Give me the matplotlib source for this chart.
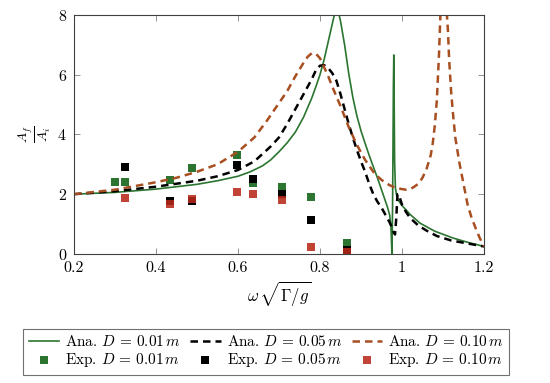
import matplotlib
matplotlib.use('Agg')
import matplotlib.pyplot as plt

plt.rcParams['font.family'] = 'serif'
plt.rcParams['font.serif'] = ['cmr10']
plt.rcParams['mathtext.fontset'] = 'cm'
plt.rcParams['axes.formatter.use_mathtext'] = True
plt.rcParams['font.size'] = 11

# analytic curves
ana01_x = [0.20, 0.30, 0.40, 0.50, 0.55, 0.60, 0.63, 0.66, 0.68, 0.70, 0.72, 0.74,
           0.76, 0.78, 0.79, 0.80, 0.81, 0.82, 0.83, 0.835, 0.84, 0.845, 0.85,
           0.86, 0.87, 0.88, 0.89, 0.90, 0.91, 0.92, 0.93, 0.94, 0.95, 0.96,
           0.965, 0.97, 0.973, 0.9755, 0.977, 0.978, 0.979, 0.980, 0.981, 0.982,
           0.984, 0.987, 0.99, 1.00, 1.02, 1.044, 1.08, 1.125, 1.16, 1.20]
ana01_y = [2.00, 2.06, 2.17, 2.33, 2.45, 2.60, 2.75, 2.95, 3.15, 3.42, 3.72, 4.08,
           4.58, 5.22, 5.60, 6.00, 6.50, 7.10, 7.70, 8.00, 8.15, 8.10, 7.80,
           7.00, 6.05, 5.25, 4.62, 4.12, 3.70, 3.30, 2.92, 2.55, 2.15, 1.75,
           1.55, 1.30, 0.90, 0.00, 1.60, 3.50, 5.60, 6.66, 5.00, 3.10,
           2.20, 1.95, 1.82, 1.62, 1.32, 1.03, 0.76, 0.53, 0.39, 0.25]

ana05_x = [0.20, 0.30, 0.40, 0.50, 0.55, 0.60, 0.64, 0.68, 0.70, 0.72, 0.74, 0.76,
           0.78, 0.79, 0.80, 0.81, 0.82, 0.83, 0.84, 0.85, 0.86, 0.87, 0.88, 0.89,
           0.90, 0.91, 0.92, 0.93, 0.94, 0.95, 0.96, 0.97, 0.975, 0.98, 0.983,
           0.986, 0.989, 0.992, 1.00, 1.01, 1.02, 1.04, 1.06, 1.085, 1.12, 1.16, 1.20]
ana05_y = [2.00, 2.10, 2.25, 2.45, 2.60, 2.81, 3.10, 3.60, 3.90, 4.35, 4.85, 5.35,
           5.85, 6.15, 6.30, 6.32, 6.22, 6.05, 5.80, 5.35, 4.85, 4.35, 3.90, 3.48,
           3.10, 2.75, 2.35, 2.00, 1.75, 1.55, 1.30, 1.05, 0.90, 0.72, 0.65,
           1.20, 2.00, 2.00, 1.65, 1.40, 1.20, 0.95, 0.78, 0.60, 0.45, 0.35, 0.25]

ana10_x = [0.20, 0.30, 0.40, 0.45, 0.50, 0.55, 0.60, 0.64, 0.67, 0.70, 0.72, 0.74,
           0.76, 0.77, 0.78, 0.79, 0.80, 0.81, 0.82, 0.83, 0.84, 0.85, 0.86, 0.87,
           0.88, 0.89, 0.90, 0.91, 0.92, 0.93, 0.94, 0.95, 0.96, 0.97, 0.98, 0.99,
           1.00, 1.01, 1.02, 1.03, 1.04, 1.05, 1.06, 1.07, 1.075, 1.08, 1.085,
           1.09, 1.095, 1.107, 1.112, 1.115, 1.12, 1.125, 1.13, 1.14, 1.15, 1.16,
           1.17, 1.18, 1.19, 1.20]
ana10_y = [2.00, 2.15, 2.40, 2.55, 2.75, 3.00, 3.42, 3.90, 4.45, 5.05, 5.45, 5.95,
           6.40, 6.60, 6.72, 6.70, 6.55, 6.25, 5.95, 5.60, 5.27, 4.95, 4.60, 4.25,
           3.95, 3.65, 3.40, 3.15, 2.95, 2.75, 2.60, 2.48, 2.38, 2.30, 2.24, 2.20,
           2.17, 2.15, 2.17, 2.25, 2.35, 2.55, 2.85, 3.30, 3.70, 4.30, 5.15,
           6.60, 8.50, 8.50, 7.50, 6.50, 5.40, 4.60, 3.90, 3.05, 2.35, 1.65,
           1.20, 0.85, 0.52, 0.25]

# experimental points
exp01_x = [0.300, 0.325, 0.434, 0.487, 0.598, 0.637, 0.708, 0.778, 0.865]
exp01_y = [2.41, 2.41, 2.48, 2.87, 3.31, 2.39, 2.23, 1.90, 0.36]

exp05_x = [0.325, 0.434, 0.487, 0.598, 0.637, 0.708, 0.778, 0.865]
exp05_y = [2.92, 1.78, 1.77, 2.98, 2.51, 2.00, 1.14, 0.12]

exp10_x = [0.325, 0.434, 0.487, 0.598, 0.637, 0.708, 0.778, 0.865]
exp10_y = [1.86, 1.67, 1.84, 2.07, 2.01, 1.80, 0.22, 0.06]

c_green = '#2b7530'
c_black = 'black'
c_brown = '#a84f22'
c_red = '#b8291a'

fig = plt.figure(figsize=(5.5, 3.83), dpi=100)
ax = fig.add_axes([0.1345, 0.337, 0.7455, 0.624])

l1, = ax.plot(ana01_x, ana01_y, color=c_green, lw=1.2, label=r'Ana. $D\,=\,0.01\,m$')
l2, = ax.plot(ana05_x, ana05_y, color=c_black, lw=1.8, ls=(0, (3, 2)), label=r'Ana. $D\,=\,0.05\,m$')
l3, = ax.plot(ana10_x, ana10_y, color=c_brown, lw=1.8, ls=(0, (3, 2)), label=r'Ana. $D\,=\,0.10\,m$')

s1 = ax.scatter(exp01_x, exp01_y, marker='s', s=32, color=c_green, lw=0, label=r'Exp. $D\,=\,0.01\,m$')
s2 = ax.scatter(exp05_x, exp05_y, marker='s', s=32, color=c_black, lw=0, label=r'Exp. $D\,=\,0.05\,m$')
s3 = ax.scatter(exp10_x, exp10_y, marker='s', s=32, color=c_red, lw=0, alpha=0.88, label=r'Exp. $D\,=\,0.10\,m$')

ax.set_xlim(0.2, 1.2)
ax.set_ylim(0, 8)
ax.set_xticks([0.2, 0.4, 0.6, 0.8, 1.0, 1.2])
ax.set_xticklabels(['0.2', '0.4', '0.6', '0.8', '1', '1.2'])
ax.set_yticks([0, 2, 4, 6, 8])
ax.tick_params(direction='in', top=True, right=True, length=4, width=0.6, color='0.5',
               labelsize=11.5, pad=5)
for sp in ax.spines.values():
    sp.set_linewidth(0.8)
    sp.set_color('0.25')

ax.set_xlabel(r'$\omega\,\sqrt{\Gamma/g}$', fontsize=12)
ax.set_ylabel(r'$\frac{A_f}{A_i}$', fontsize=14, labelpad=3)

leg = fig.legend(handles=[l1, s1, l2, s2, l3, s3], ncol=3, loc='center',
                 bbox_to_anchor=(0.484, 0.082), frameon=True, fancybox=False,
                 edgecolor='0.3', handlelength=2.0, handletextpad=0.4,
                 columnspacing=0.6, borderpad=0.35, labelspacing=0.15, fontsize=11)
leg.get_frame().set_linewidth(0.8)

fig.savefig('out.png', dpi=100)
